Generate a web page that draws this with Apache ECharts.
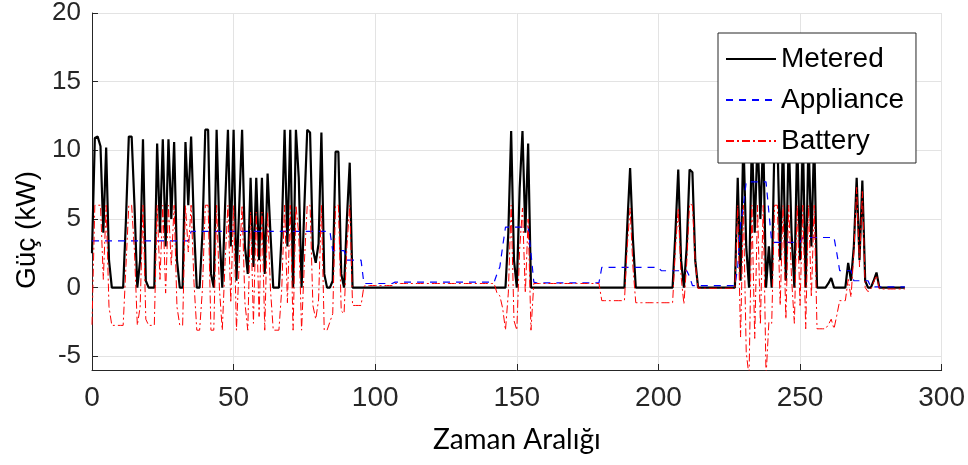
<!DOCTYPE html>
<html><head><meta charset="utf-8">
<script src="https://cdn.jsdelivr.net/npm/echarts@6/dist/echarts.min.js"></script>
<style>html,body{margin:0;padding:0;background:#fff}#c{width:968px;height:465px}</style>
</head><body><div id="c"></div>
<script>
const metered = [
2.5,10.9,11,10.3,4,10.2,2,0,0,0,
0,0,5,11,11,6,0,2,10.8,0.5,
0,0,0,10.5,4,10.8,3,10.8,5,10.6,
2,0,0,10.6,6,11,4.5,0,0,4,
11.5,11.5,1,0,11.5,4,0,6,11.5,3,
11.5,0.5,6,11.5,3,1,8,1.5,8,2,
8,1,8.3,4,0,0,0,4,11.5,3,
11.5,0,11.5,8,0,6,11.5,11.3,2.8,1.8,
3.2,11.3,1,0,0,0.5,9.9,9.9,1,0,
5,9.1,0,0,0,0,0,0,0,0,
0,0,0,0,0,0,0,0,0,0,
0,0,0,0,0,0,0,0,0,0,
0,0,0,0,0,0,0,0,0,0,
0,0,0,0,0,0,0,0,0,0,
0,0,0,0,0,0,0,4,11.4,2,
0,7.2,11.4,4,10.5,0,0,0,0,0,
0,0,0,0,0,0,0,0,0,0,
0,0,0,0,0,0,0,0,0,0,
0,0,0,0,0,0,0,0,0,4.5,
8.7,3.5,0,0,0,0,0,0,0,0,
0,0,0,0,0,0,4,8.6,2,0,
3,8.6,8.4,2,0,0,0,0,0,0,
0,0,0,0,0,0,0,0,8,0.5,
11,3,0,11,4,11,5,11,0,3,
0,11,11,2,11,0.5,11,4,0,11,
2,11,0,11,3,11,0,0,0,0,
0.3,0.7,0,0,0,0,0,1.8,0.5,3,
8,2,7.8,0.5,0,0,0.5,1.1,0,0,
0,0,0,0,0,0,0,0
];
const appliance = [
3.4,3.4,3.4,3.4,3.4,3.4,3.4,3.4,3.4,3.4,
3.4,3.4,3.4,3.4,3.4,3.4,3.4,3.4,3.4,3.4,
3.4,3.4,3.4,3.4,3.4,3.4,3.4,3.4,3.4,3.4,
3.4,3.4,3.4,3.4,3.4,4.1,4.1,4.1,4.1,4.1,
4.1,4.1,4.1,4.1,4.1,4.1,4.1,4.1,4.1,4.1,
4.1,4.1,4.1,4.1,4.1,4.1,4.1,4.1,4.1,4.1,
4.1,4.1,4.1,4.1,4.1,4.1,4.1,4.1,4.1,4.1,
4.1,4.1,4.1,4.1,4.1,4.1,4.1,4.1,4.1,4.1,
4.1,4.1,4.1,4.1,4.1,2.7,2.7,2.7,2.7,2.7,
2,2,2,2,2,2,0.3,0.3,0.3,0.3,
0.3,0.3,0.3,0.3,0.3,0.3,0.3,0.4,0.4,0.4,
0.4,0.4,0.4,0.4,0.4,0.4,0.4,0.4,0.4,0.4,
0.4,0.4,0.4,0.4,0.4,0.4,0.4,0.4,0.4,0.4,
0.4,0.4,0.4,0.4,0.4,0.4,0.4,0.4,0.4,0.4,
0.4,0.4,0.4,1.0,1.5,3.0,4.4,4.4,4.4,4.4,
4.4,4.4,4.4,4.4,4.4,2.5,0.4,0.35,0.35,0.35,
0.35,0.35,0.35,0.35,0.35,0.35,0.35,0.35,0.35,0.35,
0.35,0.35,0.35,0.35,0.35,0.35,0.35,0.35,0.35,0.35,
1.47,1.47,1.47,1.47,1.47,1.47,1.47,1.47,1.47,1.47,
1.47,1.47,1.47,1.47,1.47,1.47,1.47,1.47,1.47,1.47,
1.47,1.23,1.23,1.23,1.23,1.23,1.23,1.23,1.23,1.23,
1.23,0.8,0.15,0.15,0.15,0.15,0.15,0.15,0.15,0.15,
0.15,0.15,0.15,0.15,0.15,0.15,0.15,0.15,1.5,4.6,
6.0,7.7,7.7,7.7,7.7,7.7,7.7,7.7,7.7,5.5,
3.3,3.3,3.3,3.3,3.3,3.3,3.3,3.3,3.3,3.3,
3.3,3.65,3.65,3.65,3.65,3.65,3.65,3.65,3.65,3.65,
3.65,3.65,3.65,2.5,1.23,1.23,1.23,1.23,1.23,0.5,
0.5,0.5,0.5,0.5,0.5,0.05,0.05,0.05,0.05,0.05,
0.05,0.05,0.05,0.05,0.05,0.05,0.05,0.05
];
const battery = [
-2.7,6,6,6,0.6,6,-1.4,-2.75,-2.75,-2.75,
-2.75,-2.75,1.6,6,6,2.6,-2.75,-1.4,6,-2.3,
-2.75,-2.75,-2.75,6,0.6,6,-0.4,6,1.6,6,
-1.4,-2.75,-2.75,6,2.6,6,0.4,-3.1,-3.1,-0.1,
6,6,-3.1,-3.1,6,-0.1,-3.1,1.9,6,-1.1,
6,-3.1,1.9,6,-1.1,-3.1,5.5,-2.6,5.5,-2.1,
5.5,-3.1,5.5,-0.1,-3.1,-3.1,-3.1,-0.1,6,-1.1,
6,-3.1,6,3.9,-3.1,1.9,6,6,-1.3,-2.3,
-0.9,6,-3.1,-3.1,-2.5,-1.9,6,6,-1.7,-1.9,
3.0,6,-1.3,-1.3,-1.3,-1.3,0.1,0.15,0.15,0.15,
0.15,0.15,0.15,0.15,0.15,0.15,0.15,0.3,0.3,0.3,
0.3,0.3,0.3,0.3,0.3,0.3,0.3,0.3,0.3,0.3,
0.3,0.3,0.3,0.3,0.3,0.3,0.3,0.3,0.3,0.3,
0.3,0.3,0.3,0.3,0.3,0.3,0.3,0.3,0.3,0.3,
0.3,0.3,0.3,-0.4,-0.6,-1.5,-3.1,-0.4,6,-2.4,
-3.1,2.8,5.8,-0.4,5.0,-3.1,0.3,0.3,0.3,0.3,
0.3,0.3,0.3,0.3,0.3,0.3,0.3,0.3,0.3,0.3,
0.3,0.3,0.3,0.3,0.3,0.3,0.3,0.3,0.3,0.3,
-0.95,-0.95,-0.95,-0.95,-0.95,-0.95,-0.95,-0.95,-0.95,3.0,
5.8,1.5,-1.1,-1.1,-1.1,-1.1,-1.1,-1.1,-1.1,-1.1,
-1.1,-1.1,-1.1,-1.1,-1.1,-1.1,2.8,5.8,0.8,-1.2,
1.8,6.1,6,1.8,-0.05,-0.05,-0.05,-0.05,-0.05,-0.05,
-0.05,-0.05,-0.05,-0.05,-0.05,-0.05,-0.05,-0.05,6,-3.6,
6,-4.7,-6.5,6,-3.7,6,-2.7,6,-6.5,-2.5,
-2.6,6,6,-1.3,6,-2.3,6,0.7,-2.6,6,
-1.3,6,-3.0,6,-0.7,6,-3.0,-3.0,-3.0,-3.0,
-2.7,-2.3,-3.0,-2.0,-0.95,-0.95,-0.95,0.6,-0.7,2.5,
7.3,1.5,7.0,0,-0.3,-0.1,0.4,0.9,-0.1,-0.1,
-0.1,-0.1,-0.1,-0.1,-0.1,-0.1,-0.1,-0.1
];
const xTicks = [0, 50, 100, 150, 200, 250, 300];
const yTicks = [-5, 0, 5, 10, 15, 20];
const seriesNames = ['Metered', 'Appliance', 'Battery'];

const toPairs = arr => arr.map((v, i) => [i, v]);
const chart = echarts.init(document.getElementById('c'), null, {renderer: 'canvas'});
const axisColor = '#262626';
chart.setOption({
  animation: false,
  grid: {left: 92, right: 26, top: 11, bottom: 95},
  xAxis: {
    type: 'value', min: 0, max: 300, interval: 50,
    axisLine: {show: true, onZero: false, lineStyle: {color: axisColor, width: 1}},
    axisTick: {show: true, inside: true, length: 6, lineStyle: {color: axisColor}},
    axisLabel: {color: axisColor, fontSize: 28, fontFamily: 'Liberation Sans', margin: 14},
    splitLine: {show: true, lineStyle: {color: '#e3e3e3', width: 1}},
    name: 'Zaman Aralığı', nameLocation: 'middle', nameGap: 56,
    nameTextStyle: {color: '#000', fontSize: 28, fontFamily: 'Lato'}
  },
  yAxis: {
    type: 'value', min: -6, max: 20,
    axisLine: {show: true, lineStyle: {color: axisColor, width: 1}},
    axisTick: {show: true, inside: true, length: 6, customValues: yTicks, lineStyle: {color: axisColor}},
    axisLabel: {color: axisColor, fontSize: 26, fontFamily: 'Liberation Sans', margin: 11, customValues: yTicks},
    splitLine: {show: true, lineStyle: {color: '#e3e3e3', width: 1}}
  },
  graphic: [{
    type: 'text', x: 27, y: 230, rotation: Math.PI / 2,
    style: {text: 'Güç (kW)', fill: '#000', font: '28px "Liberation Sans"', textAlign: 'center', textVerticalAlign: 'middle'}
  }],
  legend: {
    orient: 'vertical', left: 718, top: 33,
    padding: [12, 12, 8, 7], itemGap: 13, itemWidth: 50, itemHeight: 14,
    backgroundColor: '#fff', borderColor: axisColor, borderWidth: 1,
    textStyle: {fontSize: 28, color: '#000', fontFamily: 'Liberation Sans'},
    itemStyle: {opacity: 0},
    data: seriesNames
  },
  series: [
    {name: seriesNames[0], type: 'line', data: toPairs(metered), showSymbol: false, symbol: 'none',
     lineStyle: {color: '#000', width: 2.2}, itemStyle: {color: '#000'}},
    {name: seriesNames[1], type: 'line', data: toPairs(appliance), showSymbol: false, symbol: 'none',
     lineStyle: {color: '#0000ff', width: 1.2, type: [7, 6]}, itemStyle: {color: '#0000ff'}},
    {name: seriesNames[2], type: 'line', data: toPairs(battery), showSymbol: false, symbol: 'none',
     lineStyle: {color: '#ff0000', width: 1, type: [8, 3, 2, 3]}, itemStyle: {color: '#ff0000'}}
  ]
});
</script></body></html>
